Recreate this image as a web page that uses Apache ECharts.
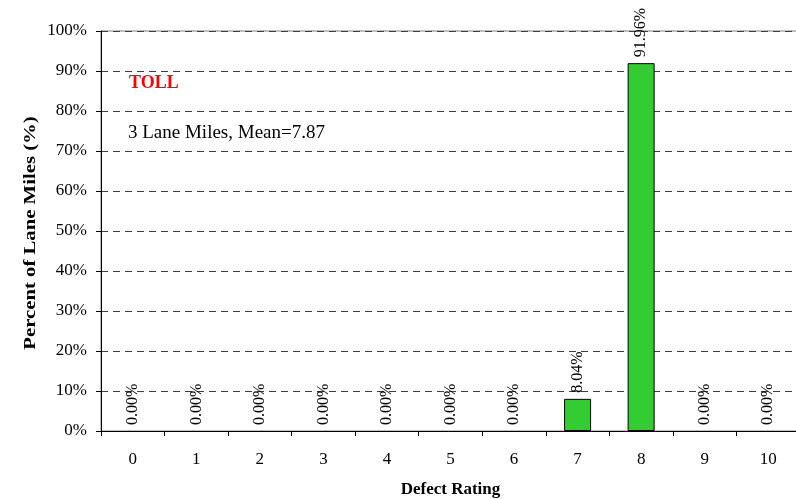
<!DOCTYPE html>
<html>
<head>
<meta charset="utf-8">
<script src="https://cdn.jsdelivr.net/npm/echarts@6/dist/echarts.min.js"></script>
<style>
  html, body { margin: 0; padding: 0; background: #fff; overflow: hidden; }
  #chart { width: 796px; height: 499px; }
</style>
</head>
<body>
<div id="chart"></div>
<script>
// data
var ratings = ['0', '1', '2', '3', '4', '5', '6', '7', '8', '9', '10'];
var percents = [0, 0, 0, 0, 0, 0, 0, 8.04, 91.96, 0, 0];
var yTicks = [0, 10, 20, 30, 40, 50, 60, 70, 80, 90, 100];

var serif = '"Liberation Serif", "DejaVu Serif", serif';

var myChart = echarts.init(document.getElementById('chart'));

// zero bars have no visible outline in the original
var barData = percents.map(function (v) {
  return { value: v, itemStyle: { borderWidth: v > 0 ? 1 : 0 } };
});

var option = {
  animation: false,
  textStyle: { fontFamily: serif },
  grid: {
    left: 101,
    top: 31,
    width: 699,
    height: 400,
    outerBoundsMode: 'none',
    containLabel: false,
    show: true,
    borderColor: '#808080',
    borderWidth: 1
  },
  graphic: [
    {
      type: 'text', left: 129, top: 74,
      style: { text: 'TOLL', fill: '#ff0000', font: 'bold 18px ' + serif }
    },
    {
      type: 'text', left: 128, top: 124,
      style: { text: '3 Lane Miles, Mean=7.87', fill: '#000', font: '19px ' + serif }
    },
    {
      // y axis title, stretched like the original
      type: 'text',
      x: 31,
      y: 233,
      rotation: Math.PI / 2,
      scaleX: 1.22,
      style: {
        text: 'Percent of Lane Miles (%)',
        fill: '#000',
        font: 'bold 17px ' + serif,
        align: 'center',
        verticalAlign: 'middle'
      }
    }
  ],
  xAxis: {
    type: 'category',
    data: ratings,
    name: 'Defect Rating',
    nameLocation: 'middle',
    nameGap: 50,
    nameTextStyle: { fontWeight: 'bold', fontSize: 17, color: '#000', fontFamily: serif },
    axisLine: { lineStyle: { color: '#000', width: 1 } },
    axisTick: { show: true, alignWithLabel: false, length: 5, inside: false, lineStyle: { color: '#000' } },
    axisLabel: { color: '#000', fontSize: 17, margin: 20, fontFamily: serif },
    splitLine: { show: false }
  },
  yAxis: {
    type: 'value',
    min: 0,
    max: 100,
    interval: 10,
    axisLine: { show: true, lineStyle: { color: '#000', width: 1 } },
    axisTick: { show: true, length: 5, lineStyle: { color: '#000' } },
    axisLabel: {
      color: '#000', fontSize: 17, margin: 14, fontFamily: serif,
      formatter: function (v) { return yTicks.indexOf(v) >= 0 ? v + '%' : ''; }
    },
    splitLine: { show: true, lineStyle: { color: '#404040', type: [7, 5], width: 1 } }
  },
  series: [
    {
      type: 'bar',
      data: barData,
      barWidth: 27,
      itemStyle: { color: '#33cc33', borderColor: '#000', borderWidth: 1 },
      label: {
        show: true,
        position: 'top',
        rotate: 90,
        distance: 6,
        align: 'left',
        verticalAlign: 'middle',
        fontFamily: serif,
        fontSize: 16,
        color: '#000',
        formatter: function (p) { return p.value.toFixed(2) + '%'; }
      }
    }
  ]
};

if (option && typeof option === 'object') {
  myChart.setOption(option);
}

window.addEventListener('resize', myChart.resize);
</script>
</body>
</html>
